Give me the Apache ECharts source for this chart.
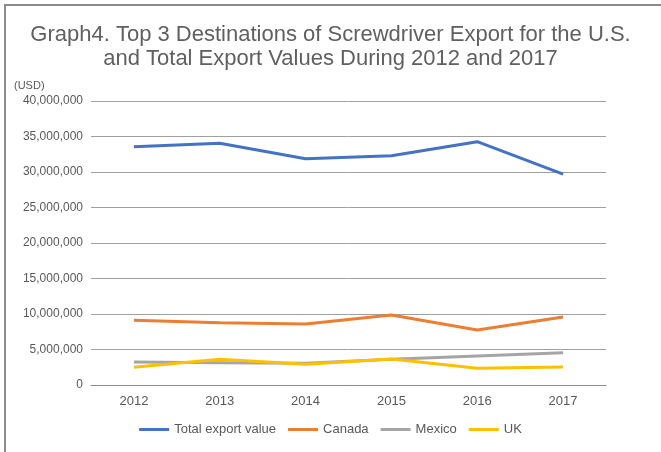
<!DOCTYPE html>
<html>
<head>
<meta charset="utf-8">
<title>Graph4</title>
<script src="https://cdn.jsdelivr.net/npm/echarts@6/dist/echarts.min.js"></script>
<style>
html, body { margin: 0; padding: 0; background: #fff; overflow: hidden; }
#frame { position: absolute; left: 4px; top: 4px; width: 700px; height: 500px;
  border-left: 2px solid #8c8c8c; border-top: 2px solid #8c8c8c; box-sizing: border-box; }
#chart { position: absolute; left: 0; top: 0; width: 661px; height: 452px; }
</style>
</head>
<body>
<div id="frame"></div>
<div id="chart"></div>
<script type="text/javascript">
var years = ['2012', '2013', '2014', '2015', '2016', '2017'];
var totalExport = [33560000, 34040000, 31870000, 32300000, 34270000, 29700000];
var canada = [9110000, 8770000, 8590000, 9860000, 7750000, 9580000];
var mexico = [3240000, 3150000, 3060000, 3620000, 4080000, 4550000];
var uk = [2490000, 3620000, 2920000, 3660000, 2350000, 2540000];

var textColor = '#595959';
var font = '"Liberation Sans", Arial, sans-serif';

function line(name, data, color) {
	return {
		name : name,
		type : 'line',
		data : data,
		symbol : 'none',
		lineStyle : { color : color, width : 3 },
		itemStyle : { color : color }
	};
}

var chart = echarts.init(document.getElementById('chart'));
chart.setOption({
	animation : false,
	title : {
		text : 'Graph4. Top 3 Destinations of Screwdriver Export for the U.S.\nand Total Export Values During 2012 and 2017',
		left : 'center',
		top : 18,
		textStyle : { color : '#606060', fontSize : 22, fontWeight : 'normal', fontFamily : font, lineHeight : 24 }
	},
	legend : {
		bottom : 11,
		left : 'center',
		itemWidth : 30,
		itemHeight : 3,
		itemGap : 12,
		icon : 'rect',
		textStyle : { color : textColor, fontSize : 13, fontFamily : font },
		data : [ 'Total export value', 'Canada', 'Mexico', 'UK' ]
	},
	grid : {
		left : 91,
		right : 55,
		top : 101,
		bottom : 67
	},
	xAxis : {
		type : 'category',
		data : years,
		boundaryGap : true,
		axisLine : { lineStyle : { color : '#8c8c8c' } },
		axisTick : { show : false },
		axisLabel : { color : textColor, fontSize : 13, fontFamily : font, margin : 10 }
	},
	yAxis : {
		type : 'value',
		min : 0,
		max : 40000000,
		interval : 5000000,
		name : '(USD)',
		nameLocation : 'end',
		nameGap : 10,
		nameTextStyle : { color : textColor, fontSize : 11, fontFamily : font, align : 'left', padding : [0, 0, 0, -77] },
		axisLine : { show : false },
		axisTick : { show : false },
		splitLine : { lineStyle : { color : '#a0a0a0' } },
		axisLabel : {
			color : textColor, fontSize : 12, fontFamily : font, margin : 8,
			formatter : function(v) { return v.toLocaleString('en-US'); }
		}
	},
	series : [
		line('Total export value', totalExport, '#4472c4'),
		line('Canada', canada, '#ed7d31'),
		line('Mexico', mexico, '#a5a5a5'),
		line('UK', uk, '#ffc000')
	]
});
</script>
</body>
</html>
